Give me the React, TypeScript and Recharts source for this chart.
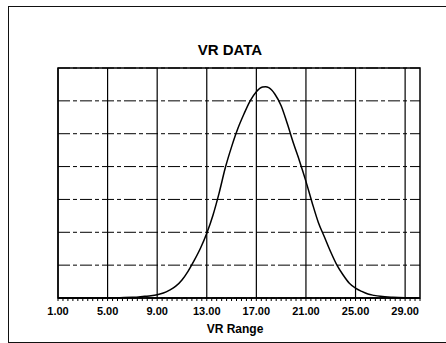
import React from "react"
import { LineChart, Line, XAxis, YAxis, CartesianGrid, ReferenceLine, ReferenceArea } from "recharts"

// VR range (x) and frequency (y)
const vrRange = [
  1, 2, 3, 4, 5, 6, 7, 7.5, 8, 8.5, 9, 9.5, 10, 10.5, 11, 11.5, 12, 12.5, 13, 13.5, 14, 14.5, 15, 15.5, 16,
  16.5, 17, 17.5, 17.75, 18, 18.5, 19, 19.5, 20, 20.5, 21, 21.5, 22, 22.5, 23, 23.5, 24, 24.5, 25, 25.5, 26,
  26.5, 27, 28, 29, 30,
]
const vrValue = [
  0, 0, 0, 0, 0, 0.01, 0.02, 0.03, 0.05, 0.07, 0.1, 0.15, 0.24, 0.36, 0.55, 0.82, 1.15, 1.52, 1.97, 2.52, 3.2,
  3.97, 4.6, 5.15, 5.6, 6.0, 6.28, 6.42, 6.43, 6.4, 6.2, 5.85, 5.3, 4.7, 4.15, 3.55, 2.9, 2.3, 1.85, 1.4, 1.0,
  0.7, 0.45, 0.3, 0.2, 0.12, 0.08, 0.05, 0.02, 0.005, 0,
]

const majorTicks = [1, 5, 9, 13, 17, 21, 25, 29]
const yTicks = [0, 1, 2, 3, 4, 5, 6, 7]
const xMin = 1
const xMax = 30.2

const chartData = vrRange.map((x, i) => ({ x, y: vrValue[i] }))

// small ticks along the bottom axis, ten per major step
const minorTicks: number[] = []
for (let k = 0; xMin + k * 0.4 <= xMax + 0.001; k++) {
  minorTicks.push(Math.round((xMin + k * 0.4) * 100) / 100)
}

const isMajor = (v: number) => majorTicks.some((t) => Math.abs(t - v) < 0.01)

const font = "'Liberation Sans', Arial, Helvetica, sans-serif"

const TickLabel = (props: any) => {
  const { x, y, payload } = props
  if (!isMajor(payload.value)) return null
  return (
    <text x={x} y={y} dy="0.71em" textAnchor="middle" fontFamily={font} fontWeight="bold" fontSize={11} fill="#000">
      {payload.value.toFixed(2)}
    </text>
  )
}

export default function App() {
  return (
    <div style={{ position: "absolute", left: 0, top: 0, width: 446, height: 343, background: "#fff", overflow: "hidden" }}>
      <div
        style={{
          position: "absolute",
          left: 8,
          top: 6,
          width: 450,
          height: 335,
          borderLeft: "1px solid #111",
          borderTop: "1px solid #111",
          borderBottom: "1px solid #111",
        }}
      />
      <div
        style={{
          position: "absolute",
          left: 130,
          width: 200,
          top: 41,
          textAlign: "center",
          fontFamily: font,
          fontWeight: "bold",
          fontSize: 15,
          color: "#000",
        }}
      >
        VR DATA
      </div>
      <div style={{ position: "absolute", left: 0, top: 0 }}>
        <LineChart width={446} height={343} data={chartData} margin={{ top: 68, right: 26, left: 58, bottom: 5 }}>
          <CartesianGrid vertical={false} stroke="#000" strokeWidth={1} strokeDasharray="12 3 4 3" />
          <XAxis
            dataKey="x"
            type="number"
            domain={[xMin, xMax]}
            ticks={minorTicks}
            interval={0}
            height={40}
            axisLine={{ stroke: "#000", strokeWidth: 1.5 }}
            tickLine={{ stroke: "#000", strokeWidth: 1 }}
            tickSize={3}
            tickMargin={6}
            tick={<TickLabel />}
            label={{
              value: "VR Range",
              position: "insideBottom",
              offset: 5,
              dx: -4,
              style: { fontFamily: font, fontWeight: "bold", fontSize: 12, fill: "#000" },
            }}
          />
          <YAxis hide type="number" domain={[0, 7]} ticks={yTicks} />
          {majorTicks.map((t) => (
            <ReferenceLine key={t} x={t} stroke="#000" strokeWidth={1.2} />
          ))}
          <ReferenceArea x1={xMin} x2={xMax} y1={0} y2={7} stroke="#000" strokeWidth={1.5} fill="none" fillOpacity={0} />
          <Line
            type="monotone"
            dataKey="y"
            stroke="#000"
            strokeWidth={1.5}
            dot={false}
            activeDot={false}
            isAnimationActive={false}
          />
        </LineChart>
      </div>
    </div>
  )
}
